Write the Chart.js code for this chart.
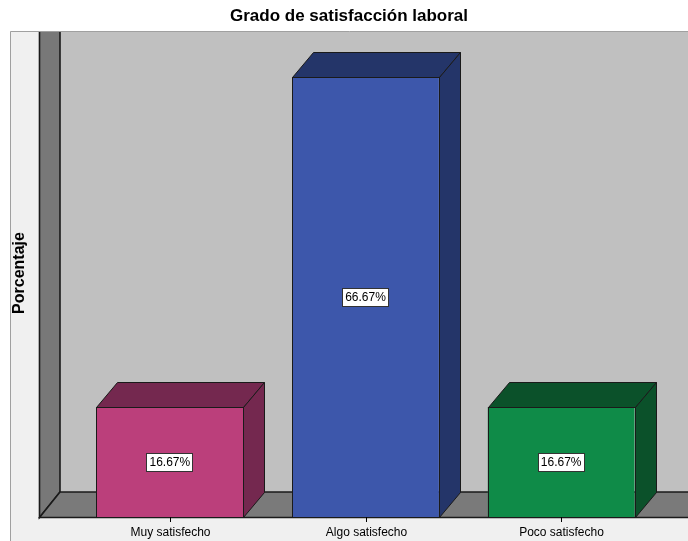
<!DOCTYPE html>
<html>
<head>
<meta charset="utf-8">
<title>Grado de satisfacción laboral</title>
<script src="https://cdn.jsdelivr.net/npm/chart.js@4.4.1/dist/chart.umd.min.js"></script>
<style>
  html, body { margin: 0; padding: 0; background: #fff; }
  canvas { display: block; }
</style>
</head>
<body>
<canvas id="satisfaccion" width="688" height="541"></canvas>
<script>
const categories = ['Muy satisfecho', 'Algo satisfecho', 'Poco satisfecho'];
const percentages = [16.67, 66.67, 16.67];
const frontColors = ['#bb3f7b', '#3d57ab', '#0f8b48'];
const sideColors = ['#74284f', '#243569', '#0b512a'];

// 3D depth of the bars and walls
const DX = 21, DY = 25;
const PANEL_X = 10, PANEL_Y = 31;
const WALL_X = 39;
const EDGE = '#1a1a1a';

function poly(ctx, pts, fill, lw) {
  ctx.beginPath();
  ctx.moveTo(pts[0][0], pts[0][1]);
  for (let i = 1; i < pts.length; i++) ctx.lineTo(pts[i][0], pts[i][1]);
  ctx.closePath();
  ctx.fillStyle = fill;
  ctx.fill();
  ctx.strokeStyle = EDGE;
  ctx.lineWidth = lw || 1;
  ctx.stroke();
}

const box3d = {
  id: 'box3d',
  beforeDatasetsDraw(chart) {
    const { ctx, width, height, chartArea } = chart;
    const bottom = chartArea.bottom;
    ctx.save();
    ctx.fillStyle = '#fff';
    ctx.fillRect(0, 0, width, height);

    // panel
    ctx.fillStyle = '#f0f0f0';
    ctx.fillRect(PANEL_X, PANEL_Y, width - PANEL_X, height - PANEL_Y);
    ctx.strokeStyle = '#a0a0a0';
    ctx.beginPath();
    ctx.moveTo(PANEL_X + 0.5, height);
    ctx.lineTo(PANEL_X + 0.5, PANEL_Y + 0.5);
    ctx.lineTo(width, PANEL_Y + 0.5);
    ctx.stroke();

    ctx.beginPath();
    ctx.rect(PANEL_X + 1, PANEL_Y + 1, width, height);
    ctx.clip();

    // back wall
    ctx.fillStyle = '#c0c0c0';
    ctx.fillRect(WALL_X + DX, PANEL_Y, width, bottom - DY - PANEL_Y);

    // left wall
    poly(ctx, [[WALL_X + 0.5, PANEL_Y - 5], [WALL_X + DX, PANEL_Y - 5],
               [WALL_X + DX, bottom - DY], [WALL_X + 0.5, bottom + 0.5]], '#787878', 1.6);

    // floor
    poly(ctx, [[WALL_X + 0.5, bottom + 0.5], [WALL_X + DX, bottom - DY],
               [width + 30, bottom - DY], [width + 30, bottom + 0.5]], '#7a7a7a', 1.6);
    ctx.restore();
  },
  afterDatasetsDraw(chart) {
    const { ctx } = chart;
    const bars = chart.getDatasetMeta(0).data;
    ctx.save();
    bars.forEach((bar, i) => {
      const { x, y, base, width } = bar.getProps(['x', 'y', 'base', 'width'], true);
      const l = Math.round(x - width / 2) + 0.5, r = Math.round(x + width / 2) + 0.5;
      const t = Math.round(y) + 0.5, b = Math.round(base) + 0.5;
      // top face
      poly(ctx, [[l, t], [l + DX, t - DY], [r + DX, t - DY], [r, t]], sideColors[i]);
      // side face
      poly(ctx, [[r, t], [r + DX, t - DY], [r + DX, b - DY], [r, b]], sideColors[i]);
      // front outline
      ctx.strokeStyle = EDGE;
      ctx.strokeRect(l, t, r - l, b - t);

      // value label
      const txt = percentages[i].toFixed(2) + '%';
      ctx.font = '12px "Liberation Sans", Arial, sans-serif';
      const tw = ctx.measureText(txt).width;
      const cy = Math.round((y + base) / 2);
      const bw = Math.round(tw + 6), bh = 19;
      const bx = Math.round(x - bw / 2);
      ctx.fillStyle = '#fff';
      ctx.fillRect(bx, cy - 9, bw, bh);
      ctx.strokeStyle = '#333';
      ctx.strokeRect(bx + 0.5, cy - 8.5, bw - 1, bh - 1);
      ctx.fillStyle = '#000';
      ctx.textAlign = 'center';
      ctx.textBaseline = 'middle';
      ctx.fillText(txt, x, cy + 1);
    });
    ctx.restore();
  },
  afterDraw(chart) {
    const { ctx, chartArea, width } = chart;
    const xs = chart.scales.x;
    ctx.save();
    ctx.fillStyle = '#000';
    ctx.strokeStyle = '#000';
    ctx.textAlign = 'center';
    ctx.textBaseline = 'middle';

    // category ticks and labels
    ctx.font = '12px "Liberation Sans", Arial, sans-serif';
    chart.data.labels.forEach((lab, i) => {
      const px = Math.round(xs.getPixelForValue(i)) + 0.5;
      ctx.beginPath();
      ctx.moveTo(px, chartArea.bottom);
      ctx.lineTo(px, chartArea.bottom + 5);
      ctx.stroke();
      ctx.fillText(lab, px, chartArea.bottom + 16);
    });

    // title
    ctx.font = 'bold 17px "Liberation Sans", Arial, sans-serif';
    ctx.fillText('Grado de satisfacción laboral', (PANEL_X + width) / 2, 16);

    // y axis title
    ctx.font = 'bold 16px "Liberation Sans", Arial, sans-serif';
    ctx.translate(20, 273);
    ctx.rotate(-Math.PI / 2);
    ctx.fillText('Porcentaje', 0, 0);
    ctx.restore();
  }
};

new Chart(document.getElementById('satisfaccion'), {
  type: 'bar',
  data: {
    labels: categories,
    datasets: [{
      label: 'Porcentaje',
      data: percentages,
      backgroundColor: frontColors,
      borderWidth: 0,
      barPercentage: 0.75,
      categoryPercentage: 1
    }]
  },
  options: {
    responsive: false,
    animation: false,
    devicePixelRatio: 1,
    layout: { padding: { left: 72, right: 29, top: 55, bottom: 24 } },
    scales: {
      x: { display: false, offset: true },
      y: { display: false, min: 0, max: 70 }
    },
    plugins: {
      legend: { display: false },
      title: { display: false },
      tooltip: { enabled: false }
    }
  },
  plugins: [box3d]
});
</script>
</body>
</html>
